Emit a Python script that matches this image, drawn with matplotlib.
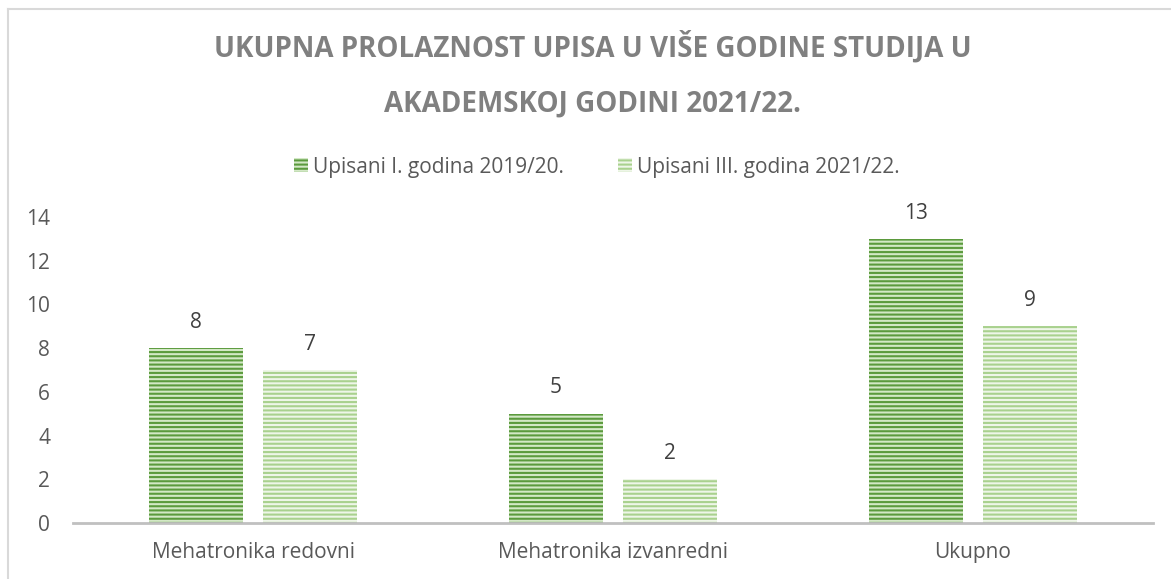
import matplotlib
matplotlib.use("Agg")
import matplotlib.pyplot as plt
from matplotlib.patches import Patch
from matplotlib.lines import Line2D
import numpy as np

categories = ["Mehatronika redovni", "Mehatronika izvanredni", "Ukupno"]
series_names = ["Upisani I. godina 2019/20.", "Upisani III. godina 2021/22."]
upisani_1 = [8, 5, 13]
upisani_3 = [7, 2, 9]
yticks = [0, 2, 4, 6, 8, 10, 12, 14]
title_lines = ["UKUPNA PROLAZNOST UPISA U VIŠE GODINE STUDIJA U", "AKADEMSKOJ GODINI 2021/22."]

FAM = ['Open Sans', 'DejaVu Sans']
plt.rcParams['font.family'] = FAM
plt.rcParams['hatch.linewidth'] = 1.5

fig = plt.figure(figsize=(11.71, 5.79), dpi=100)
renderer = fig.canvas.get_renderer()

def text_w(s, size, weight="normal"):
    t = fig.text(0, 0, s, fontsize=size, fontweight=weight, family=FAM)
    bb = t.get_window_extent(renderer)
    t.remove()
    return bb.width

def fit(s, target_px, weight="normal", base=14.0):
    return base * target_px / text_w(s, base, weight)

fs = fit(categories[0], 205)            # category / tick / legend size
fs_title = fit(title_lines[0], 760, "bold")
em = fs * 100 / 72

ax = fig.add_axes([73/1171, 1-523/579, 1080/1171, (523-217)/579])

x = np.arange(len(categories))
w = 94/360
gap = 20/360
dark_face, dark_hatch = "#d3e8c6", "#5b9a3d"
light_face, light_hatch = "#eef6e8", "#a9d18e"

b1 = ax.bar(x - (w+gap)/2, upisani_1, w, color=dark_face, edgecolor=dark_hatch,
            hatch="----", linewidth=0)
b2 = ax.bar(x + (w+gap)/2, upisani_3, w, color=light_face, edgecolor=light_hatch,
            hatch="----", linewidth=0)
for bars, vals in ((b1, upisani_1), (b2, upisani_3)):
    for r, v in zip(bars, vals):
        ax.annotate(str(v), (r.get_x() + r.get_width()/2, v), xytext=(0, 11),
                    textcoords="offset points", ha="center", va="bottom",
                    fontsize=fs, color="#404040")

ax.set_xlim(-0.5, 2.5)
ax.set_ylim(0, 14)
ax.set_yticks(yticks)
ax.set_xticks(x)
ax.set_xticklabels(categories)
ax.tick_params(axis="x", length=0, labelsize=fs, labelcolor="#595959", pad=14)
ax.tick_params(axis="y", length=0, labelsize=fs, labelcolor="#595959", pad=16.5)
for s in ("left", "right", "top"):
    ax.spines[s].set_visible(False)
ax.spines["bottom"].set_color("#c0c0c0")
ax.spines["bottom"].set_linewidth(2)

# title: two lines, line distance ~56 px
t1 = fig.text(0, 0, title_lines[0], fontsize=fs_title, fontweight="bold", family=FAM)
h1 = t1.get_window_extent(renderer).height
t1.remove()
ls = 2.0
t2 = fig.text(0, 0, "\n".join(title_lines), fontsize=fs_title, fontweight="bold",
              family=FAM, linespacing=ls)
h2 = t2.get_window_extent(renderer).height
t2.remove()
ls = ls * 56 / (h2 - h1)
fig.text(593/1171, 1-75/579, "\n".join(title_lines), ha="center", va="center",
         fontsize=fs_title, fontweight="bold", color="#808080", linespacing=ls,
         family=FAM, multialignment="center")

handles = [Patch(facecolor=dark_face, edgecolor=dark_hatch, hatch="----", linewidth=0),
           Patch(facecolor=light_face, edgecolor=light_hatch, hatch="----", linewidth=0)]
fig.legend(handles, series_names, loc="center left", bbox_to_anchor=(294/1171, 1-167/579),
           ncol=2, frameon=False, fontsize=fs, labelcolor="#595959",
           borderpad=0, borderaxespad=0,
           handlelength=14/em, handleheight=0.6, handletextpad=5/em,
           columnspacing=54/em)

fig.add_artist(Line2D([8/1171, 8/1171], [0, 1-9/579], color="#d9d9d9", lw=1.5))
fig.add_artist(Line2D([8/1171, 1], [1-9/579, 1-9/579], color="#d9d9d9", lw=1.5))

fig.savefig("out.png", dpi=100)
